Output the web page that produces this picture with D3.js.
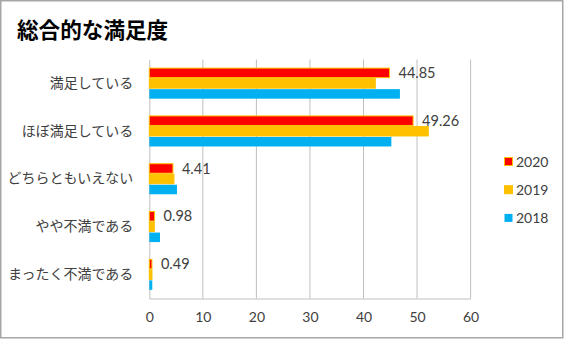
<!DOCTYPE html>
<html>
<head>
<meta charset="utf-8">
<script src="https://cdn.jsdelivr.net/npm/d3@7"></script>
<style>
  html, body { margin: 0; padding: 0; background: #fff; }
  svg { display: block; }
</style>
</head>
<body>
<svg id="chart" width="564" height="339"></svg>
<script>
// Survey answers, top to bottom
const categories = ["満足している", "ほぼ満足している", "どちらともいえない", "やや不満である", "まったく不満である"];
const years = ["2020", "2019", "2018"];
const values2020 = [44.85, 49.26, 4.41, 0.98, 0.49];
const values2019 = [42.2, 52.1, 4.6, 0.93, 0.5];
const values2018 = [46.8, 45.2, 5.17, 2.0, 0.56];
const xTicks = [0, 10, 20, 30, 40, 50, 60];

const seriesValues = { "2020": values2020, "2019": values2019, "2018": values2018 };
const fills = { "2020": "#FF0000", "2019": "#FFC000", "2018": "#00B0F0" };
const strokes = { "2020": "#FFC000", "2019": "#FFC000", "2018": "none" };

const jpFont = "'Noto Sans CJK JP', sans-serif";
const numFont = "Lato, 'Open Sans', sans-serif";
const textColor = "#404040";

const svg = d3.select("#chart");

// outer frame
svg.append("rect")
  .attr("x", 0.75).attr("y", 0.75)
  .attr("width", 562).attr("height", 337)
  .attr("fill", "#fff").attr("stroke", "#a6a6a6").attr("stroke-width", 1.5);

// title
svg.append("text")
  .attr("x", 17).attr("y", 38)
  .attr("font-family", jpFont).attr("font-weight", "bold")
  .attr("font-size", 21.6).attr("fill", "#000")
  .text("総合的な満足度");

const x = d3.scaleLinear().domain([0, 60]).range([149.3, 470.6]);
const y = d3.scaleBand().domain(categories).range([59.5, 298.5])
  .paddingInner(0.34).paddingOuter(0.17);
const ySub = d3.scaleBand().domain(years).range([0, y.bandwidth()]);

// vertical gridlines
svg.append("g").selectAll("line")
  .data(xTicks.filter(t => t > 0))
  .join("line")
  .attr("x1", d => x(d)).attr("x2", d => x(d))
  .attr("y1", 59.5).attr("y2", 298.5)
  .attr("stroke", "#bfbfbf").attr("stroke-width", 1);

// x axis
const xAxis = svg.append("g")
  .attr("transform", "translate(0,298.5)")
  .call(d3.axisBottom(x).tickValues(xTicks).tickSize(0).tickPadding(14));
xAxis.select(".domain").attr("stroke", "#bfbfbf");
xAxis.selectAll("text")
  .attr("font-family", numFont).attr("font-size", 14).attr("fill", textColor);

// y axis (category labels)
const yAxis = svg.append("g")
  .attr("transform", "translate(149.3,0)")
  .call(d3.axisLeft(y).tickSize(0).tickPadding(16));
yAxis.select(".domain").attr("stroke", "#bfbfbf");
yAxis.selectAll("text")
  .attr("font-family", jpFont).attr("font-size", 14).attr("fill", textColor);

// bars
const groups = svg.append("g").selectAll("g")
  .data(categories)
  .join("g")
  .attr("transform", d => `translate(0,${y(d)})`);

groups.selectAll("rect")
  .data((c, i) => years.map(yr => ({ yr, v: seriesValues[yr][i] })))
  .join("rect")
  .attr("x", x(0))
  .attr("y", d => ySub(d.yr) + 0.5)
  .attr("width", d => x(d.v) - x(0))
  .attr("height", ySub.bandwidth() - 1)
  .attr("fill", d => fills[d.yr])
  .attr("stroke", d => strokes[d.yr])
  .attr("stroke-width", 1);

// value labels for 2020
svg.append("g").selectAll("text")
  .data(categories.map((c, i) => ({ c, v: values2020[i] })))
  .join("text")
  .attr("x", d => x(d.v) + 9)
  .attr("y", d => y(d.c) + ySub("2020") + ySub.bandwidth() / 2)
  .attr("dy", "0.35em")
  .attr("font-family", numFont).attr("font-size", 14.5).attr("fill", textColor)
  .text(d => d.v.toFixed(2));

// legend
const legend = svg.append("g").selectAll("g")
  .data(years)
  .join("g")
  .attr("transform", (d, i) => `translate(504,${162 + i * 28.2})`);
legend.append("rect")
  .attr("x", 0.5).attr("y", -4.5).attr("width", 8).attr("height", 8)
  .attr("fill", d => fills[d])
  .attr("stroke", d => strokes[d]).attr("stroke-width", 1);
legend.append("text")
  .attr("x", 12).attr("dy", "0.35em")
  .attr("font-family", numFont).attr("font-size", 14).attr("fill", textColor)
  .text(d => d);
</script>
</body>
</html>
